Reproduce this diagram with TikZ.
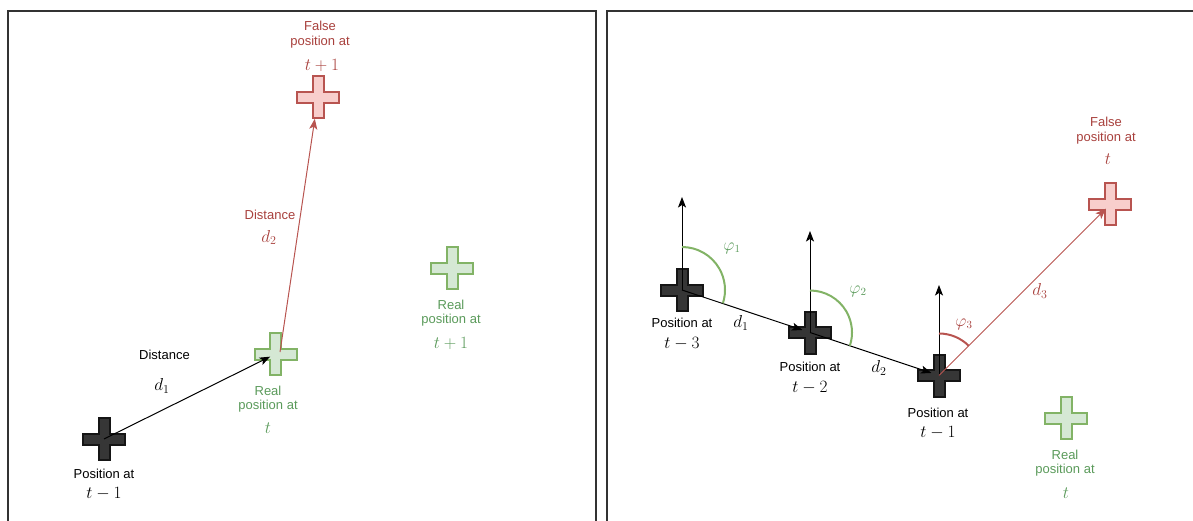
\documentclass[tikz,border=0pt]{standalone}
\usepackage{fontspec}
\setmainfont{Liberation Sans}
\usetikzlibrary{arrows.meta,calc}
\definecolor{crossfill}{HTML}{363636}
\definecolor{crossline}{HTML}{151515}
\definecolor{gstroke}{HTML}{82B366}
\definecolor{gfill}{HTML}{D5E8D4}
\definecolor{rstroke}{HTML}{B85450}
\definecolor{rfill}{HTML}{F8CECC}
\definecolor{gtext}{HTML}{5A9A5A}
\definecolor{rtext}{HTML}{A8403C}
\definecolor{frame}{HTML}{333333}
\tikzset{
  pics/plus/.style={code={
    \path[pic actions] (-5.5,-21) -- (5.5,-21) -- (5.5,-5.5) -- (21,-5.5) -- (21,5.5) -- (5.5,5.5) -- (5.5,21) -- (-5.5,21) -- (-5.5,5.5) -- (-21,5.5) -- (-21,-5.5) -- (-5.5,-5.5) -- cycle;}},
  darkcross/.style={draw=crossline, fill=crossfill, line width=2},
  greencross/.style={draw=gstroke, fill=gfill, line width=2},
  redcross/.style={draw=rstroke, fill=rfill, line width=2},
  lbl/.style={font=\fontsize{13}{15}\selectfont, anchor=base, inner sep=0pt},
  mlbl/.style={font=\fontsize{16.5}{18}\selectfont, anchor=base, inner sep=0pt},
  dlbl/.style={font=\fontsize{17}{19}\selectfont, inner sep=0pt},
  plbl/.style={font=\fontsize{16}{18}\selectfont, inner sep=0pt},
  blkarrow/.style={draw=black, line width=1, -{Stealth[length=10.5pt,width=8pt,inset=2.5pt]}},
  redarrow/.style={draw=rstroke, line width=1, -{Stealth[length=10.5pt,width=8pt,inset=2.5pt]}},
  framestyle/.style={draw=frame, line width=2},
}
\begin{document}
\begin{tikzpicture}[x=1pt,y=-1pt]
\useasboundingbox (0,0) rectangle (1193,521);
\clip (0,0) rectangle (1193,521);
% frames
\draw[framestyle] (8,535) -- (8,11) -- (596,11) -- (596,535);
\draw[framestyle] (607,535) -- (607,11) -- (1205,11);

% ---------- left panel ----------
\coordinate (L1) at (104,439);
\coordinate (LG) at (275.5,354);
\coordinate (LGs) at (280,352);
\coordinate (LR) at (318,97.5);
\coordinate (LG2) at (452,268);
\pic[darkcross] at (L1) {plus};
\pic[greencross] at (LG) {plus};
\pic[redcross] at (LR) {plus};
\pic[greencross] at (LG2) {plus};
\draw[blkarrow, shorten >=6pt] (L1) -- (LG);
\draw[redarrow, shorten >=21.5pt] (LGs) -- (LR);

\node[lbl] (lpos) at (104,478) {Position at};
\node[mlbl] (lposm) at (104,498) {$t-1$};
\node[lbl] (ldist) at (164.5,359) {Distance};
\node[dlbl] (ld1) at (162,386) {$d_1$};
\node[lbl, text=gtext] (lreal1) at (268,395) {Real};
\node[lbl, text=gtext] (lreal2) at (268,409.5) {position at};
\node[mlbl, text=gtext] (lrealm) at (268,433) {$t$};
\node[lbl, text=rtext] (lfalse1) at (320,31) {False};
\node[lbl, text=rtext] (lfalse2) at (320,45.5) {position at};
\node[mlbl, text=rtext] (lfalsem) at (322,71) {$t+1$};
\node[lbl, text=rtext] (ldist2) at (270,220) {Distance};
\node[dlbl, text=rtext] (ld2) at (269,237.5) {$d_2$};
\node[lbl, text=gtext] (lrb1) at (451,309) {Real};
\node[lbl, text=gtext] (lrb2) at (451,323.5) {position at};
\node[mlbl, text=gtext] (lrbm) at (451,348) {$t+1$};

% ---------- right panel ----------
\coordinate (R1) at (682,290);
\coordinate (R2) at (810,332.5);
\coordinate (R3) at (939,375.5);
\coordinate (RR) at (1110,204.5);
\coordinate (RG) at (1066,418);
\coordinate (U1) at (682,197);
\coordinate (U2) at (810,231);
\coordinate (U3) at (939,285);
\pic[darkcross] at (R1) {plus};
\pic[darkcross] at (R2) {plus};
\pic[darkcross] at (R3) {plus};
\pic[redcross] at (RR) {plus};
\pic[greencross] at (RG) {plus};

\draw[blkarrow] (R1) -- (U1);
\draw[blkarrow] (R2) -- (U2);
\draw[blkarrow] (R3) -- (U3);
\draw[blkarrow, shorten >=8pt] (R1) -- (R2);
\draw[blkarrow, shorten >=8pt] (R2) -- (R3);
\draw[redarrow, shorten >=6pt] (R3) -- (RR);

\draw[draw=gstroke, line width=2] ($(R1)+(0,-43)$) arc[start angle=-90, end angle=18, radius=43];
\draw[draw=gstroke, line width=2] ($(R2)+(0,-42)$) arc[start angle=-90, end angle=18.4, radius=42];
\draw[draw=rstroke, line width=2] ($(R3)+(0,-42)$) arc[start angle=-90, end angle=-45, radius=42];

\node[plbl, text=gtext] (phi1) at (732,248) {$\varphi_1$};
\node[plbl, text=gtext] (phi2) at (858,291) {$\varphi_2$};
\node[plbl, text=rtext] (phi3) at (964,324) {$\varphi_3$};
\node[dlbl] (rd1) at (741,323) {$d_1$};
\node[dlbl] (rd2) at (879,368) {$d_2$};
\node[dlbl, text=rtext] (rd3) at (1040,291) {$d_3$};

\node[lbl] (rp1) at (682,327) {Position at};
\node[mlbl] (rp1m) at (682,348) {$t-3$};
\node[lbl] (rp2) at (810,371) {Position at};
\node[mlbl] (rp2m) at (810,392) {$t-2$};
\node[lbl] (rp3) at (938,417) {Position at};
\node[mlbl] (rp3m) at (938,437) {$t-1$};
\node[lbl, text=rtext] (rf1) at (1106,127) {False};
\node[lbl, text=rtext] (rf2) at (1106,141.5) {position at};
\node[mlbl, text=rtext] (rfm) at (1108,165) {$t$};
\node[lbl, text=gtext] (rr1) at (1065,459) {Real};
\node[lbl, text=gtext] (rr2) at (1065,473.5) {position at};
\node[mlbl, text=gtext] (rrm) at (1066,498) {$t$};
\end{tikzpicture}
\end{document}
